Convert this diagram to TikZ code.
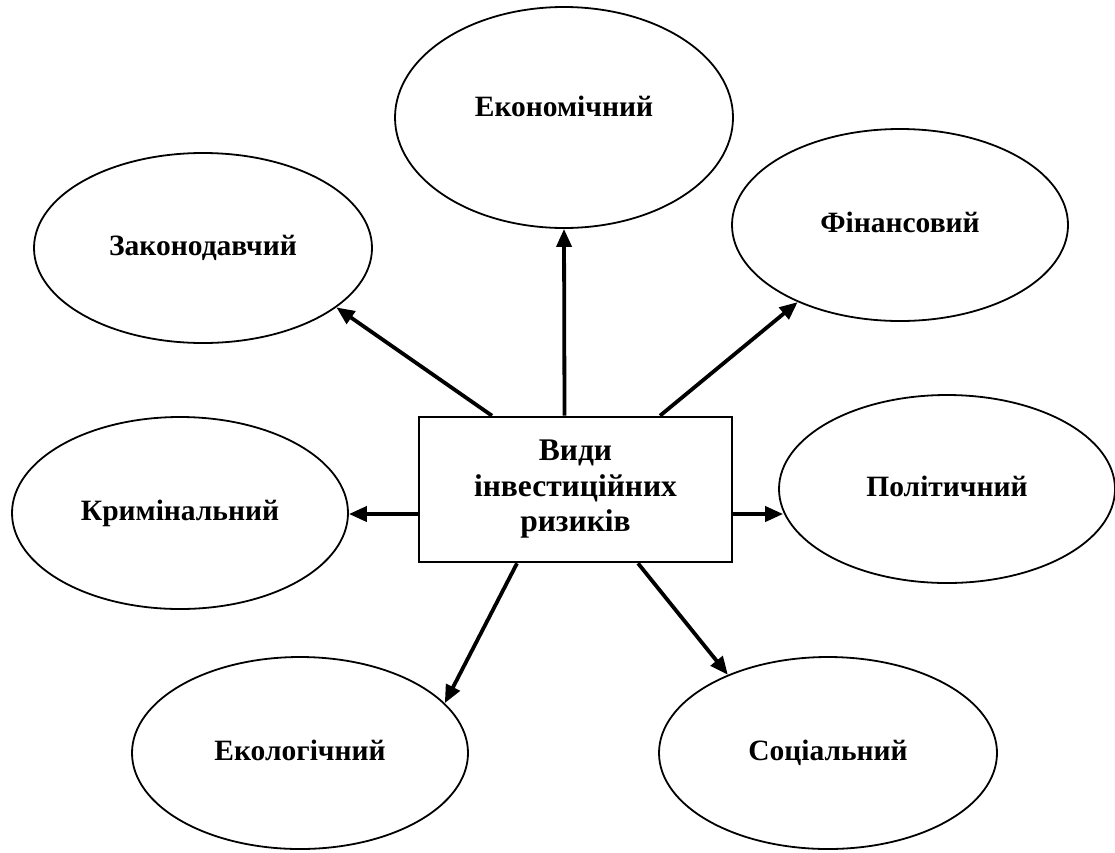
\documentclass[tikz,border=0pt]{standalone}
\usepackage{fontspec}
\setmainfont{Liberation Serif}
\usetikzlibrary{arrows.meta,shapes.geometric}
\tikzset{
  risk/.style={ellipse, draw, line width=1.8pt, inner sep=0pt,
    minimum width=338pt, minimum height=192pt,
    font=\fontsize{29.5}{34}\selectfont\bfseries},
  hub/.style={rectangle, draw, line width=2.6pt, inner sep=0pt,
    minimum width=313pt, minimum height=145pt, align=center,
    font=\fontsize{31.5}{35.5}\selectfont\bfseries},
  arr/.style={line width=3.8pt, -{Triangle[length=18pt,width=15pt]}}
}
\begin{document}
\begin{tikzpicture}[x=1pt,y=-1pt]
\useasboundingbox (0,0) rectangle (1115,852);
% central box
\node[hub] (box) at (575.5,489.5) {Види\\інвестиційних\\ризиків};
% risk categories
\node[risk, minimum height=221pt] (econ) at (564,117.5) {\raisebox{22pt}{Економічний}};
\node[risk, minimum height=190pt] (legis) at (203,248) {\raisebox{4pt}{Законодавчий}};
\node[risk, minimum width=336pt] (fin) at (900,225) {\raisebox{5pt}{Фінансовий}};
\node[risk, minimum width=336pt] (crim) at (180,513) {\raisebox{5pt}{Кримінальний}};
\node[risk, minimum width=336pt, minimum height=188pt] (pol) at (947,489) {\raisebox{5pt}{Політичний}};
\node[risk, minimum width=336pt] (ecol) at (300,753) {\raisebox{5pt}{Екологічний}};
\node[risk] (soc) at (828,753) {\raisebox{5pt}{Соціальний}};
% connectors
\draw[arr] ([xshift=-83.5pt]box.north) -- (legis.-24);
\draw[arr] ([xshift=-11pt]box.north) -- (econ.south);
\draw[arr] ([xshift=84.5pt]box.north) -- (fin.-143);
\draw[arr] ([yshift=-24.5pt]box.west) -- ([yshift=-24.5pt]box.west -| crim.east);
\draw[arr] ([yshift=-24.5pt]box.east) -- ([yshift=-24.5pt]box.east -| pol.188);
\draw[arr] ([xshift=-58.5pt]box.south) -- (ecol.19);
\draw[arr] ([xshift=62.5pt]box.south) -- (soc.142.6);
\end{tikzpicture}
\end{document}
